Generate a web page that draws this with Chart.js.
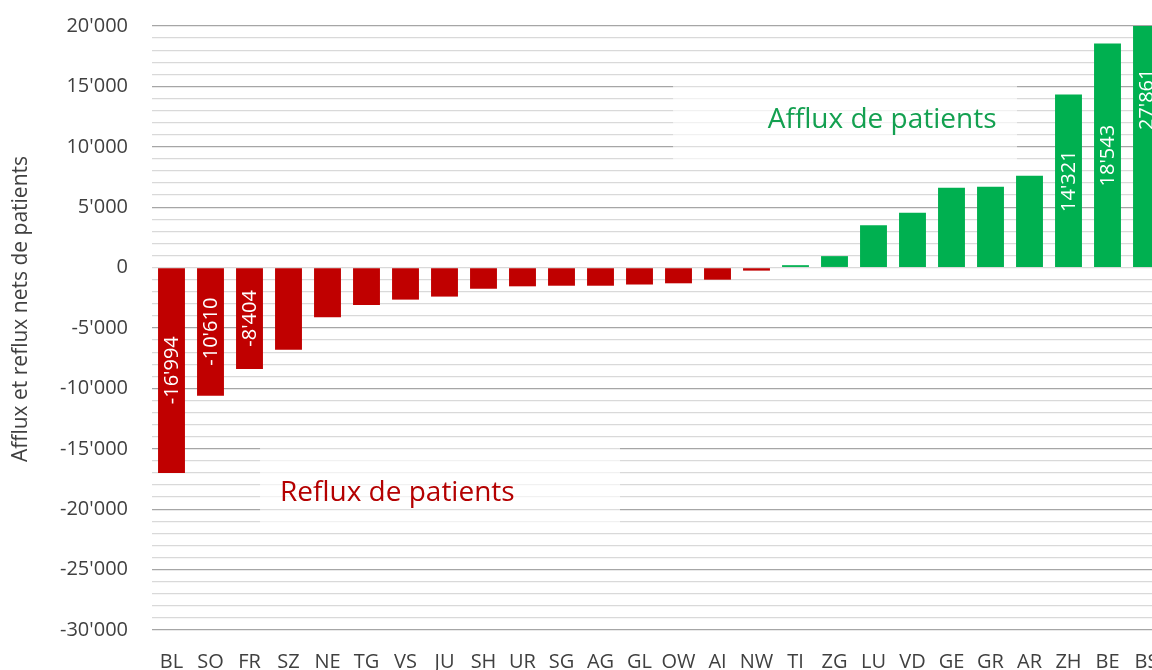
<!DOCTYPE html>
<html>
<head>
<meta charset="utf-8">
<script src="https://cdn.jsdelivr.net/npm/chart.js@4/dist/chart.umd.min.js"></script>
<style>
html,body{margin:0;padding:0;overflow:hidden;background:#fff;width:1152px;height:670px}
#wrap{width:1180px;height:670px;position:relative}
</style>
</head>
<body>
<div id="wrap"><canvas id="c" width="1180" height="670"></canvas></div>
<script>
// ---- data ----
const cantons = ['BL','SO','FR','SZ','NE','TG','VS','JU','SH','UR','SG','AG','GL','OW','AI','NW','TI','ZG','LU','VD','GE','GR','AR','ZH','BE','BS'];
const netFlows = [-16994,-10610,-8404,-6800,-4100,-3100,-2650,-2400,-1750,-1550,-1500,-1500,-1400,-1300,-1000,-250,200,950,3500,4550,6600,6700,7600,14321,18543,27861];
const labeledCantons = ['BL','SO','FR','ZH','BE','BS'];
const yMin = -30000, yMax = 20000, yMinorStep = 1000, yMajorStep = 5000;
const axisTitle = 'Afflux et reflux nets de patients';
const inflowText = 'Afflux de patients';
const outflowText = 'Reflux de patients';

const FONT = '"Open Sans", "DejaVu Sans", sans-serif';
const RED = '#c00000', GREEN = '#00b050';

function fmt(v){
  const s = Math.abs(Math.round(v)).toString().replace(/\B(?=(\d{3})+(?!\d))/g, "'");
  return (v < 0 ? '-' : '') + s;
}

// annotation boxes placed in data coordinates (category index, value)
const notes = [
  {text: inflowText, color: '#13a050', x0: 12.86, x1: 21.68, y0: 15560, y1: 8530, tx: 18.22, ty: 12250},
  {text: outflowText, color: '#b40000', x0: 2.27, x1: 11.5, y0: -14490, y1: -21520, tx: 5.79, ty: -18650}
];

const notesPlugin = {
  id: 'notes',
  beforeDatasetsDraw(chart){
    const {ctx, scales:{x, y}} = chart;
    ctx.save();
    ctx.fillStyle = 'rgba(255,255,255,0.62)';
    notes.forEach(n => {
      const l = x.getPixelForValue(n.x0), r = x.getPixelForValue(n.x1);
      const t = y.getPixelForValue(n.y0), b = y.getPixelForValue(n.y1);
      ctx.fillRect(l, t, r - l, b - t);
    });
    ctx.restore();
  },
  afterDatasetsDraw(chart){
    const {ctx, scales:{x, y}} = chart;
    ctx.save();
    ctx.font = '28px ' + FONT;
    ctx.textAlign = 'center';
    ctx.textBaseline = 'middle';
    notes.forEach(n => {
      ctx.fillStyle = n.color;
      ctx.fillText(n.text, x.getPixelForValue(n.tx), y.getPixelForValue(n.ty));
    });
    // value labels inside selected bars
    const meta = chart.getDatasetMeta(0);
    ctx.font = '20px ' + FONT;
    ctx.fillStyle = '#ffffff';
    meta.data.forEach((bar, i) => {
      if (!labeledCantons.includes(cantons[i])) return;
      const v = netFlows[i];
      const cy = (y.getPixelForValue(v) + y.getPixelForValue(0)) / 2;
      ctx.save();
      ctx.translate(bar.x, cy);
      ctx.rotate(-Math.PI / 2);
      ctx.fillText(fmt(v), 0, 1);
      ctx.restore();
    });
    // axis title
    ctx.save();
    ctx.font = '21px ' + FONT;
    ctx.fillStyle = '#404040';
    ctx.translate(21, 309);
    ctx.rotate(-Math.PI / 2);
    ctx.fillText(axisTitle, 0, 0);
    ctx.restore();
    ctx.restore();
  }
};

new Chart(document.getElementById('c'), {
  type: 'bar',
  data: {
    labels: cantons,
    datasets: [{
      data: netFlows,
      backgroundColor: netFlows.map(v => v < 0 ? RED : GREEN),
      barPercentage: 0.69,
      categoryPercentage: 1.0,
      borderWidth: 0
    }]
  },
  options: {
    responsive: false,
    animation: false,
    devicePixelRatio: 1,
    layout: {autoPadding: false, padding: {left: 0, right: 14, top: 26, bottom: 0}},
    plugins: {legend: {display: false}, tooltip: {enabled: false}},
    scales: {
      x: {
        grid: {display: false, drawTicks: false},
        border: {display: false},
        ticks: {color: '#404040', font: {family: FONT, size: 20}, padding: 20, maxRotation: 0, autoSkip: false},
        afterFit(s){ s.height = 40; s.paddingLeft = 0; s.paddingRight = 0; }
      },
      y: {
        min: yMin, max: yMax,
        grid: {
          drawTicks: false,
          lineWidth: 1.3,
          color: c => (c.tick.value === 0 ? '#d9d9d9' : (c.tick.value % yMajorStep === 0 ? '#a6a6a6' : '#d9d9d9'))
        },
        border: {display: false},
        ticks: {
          stepSize: yMinorStep,
          autoSkip: false,
          maxTicksLimit: 200,
          padding: 24,
          color: '#404040',
          font: {family: FONT, size: 20},
          callback: v => (v % yMajorStep === 0 ? fmt(v) : '')
        },
        afterFit(s){ s.width = 152; s.paddingTop = 0; s.paddingBottom = 0; }
      }
    }
  },
  plugins: [notesPlugin]
});
</script>
</body>
</html>
